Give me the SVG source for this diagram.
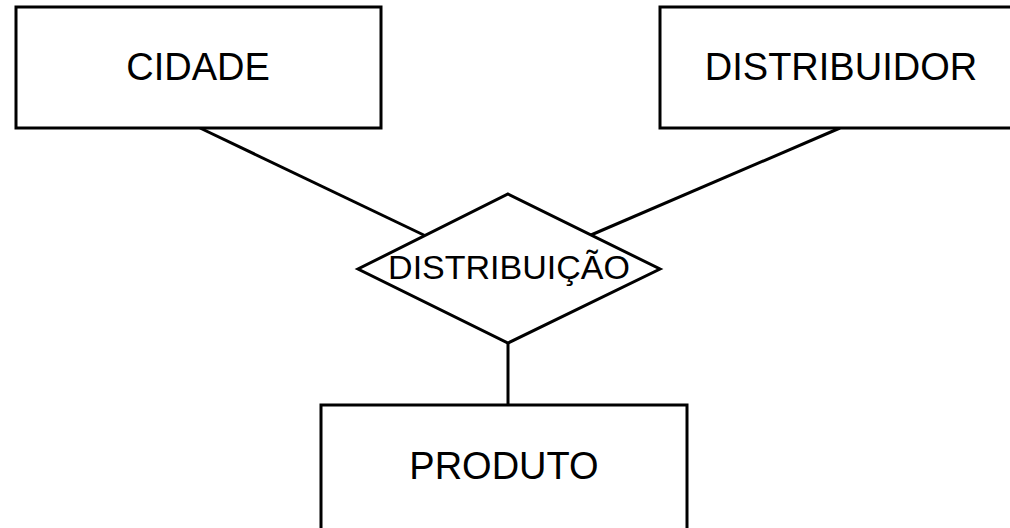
<svg xmlns="http://www.w3.org/2000/svg" width="1010" height="528" viewBox="0 0 1010 528">
<style>
.box{fill:#fff;stroke:#000;stroke-width:3}
.con{stroke:#000;stroke-width:3;fill:none}
.lbl{font-family:"Liberation Sans",Arial,sans-serif;fill:#000;text-anchor:middle}
</style>
<rect width="1010" height="528" fill="#fff"/>
<g id="connectors">
<line class="con" x1="200" y1="128" x2="430" y2="238"/>
<line class="con" x1="840" y1="128" x2="584" y2="238"/>
<line class="con" x1="508" y1="343" x2="508" y2="405"/>
</g>
<g id="cidade">
<rect class="box" x="16" y="7" width="365" height="121"/>
<text class="lbl" x="198" y="80" font-size="38">CIDADE</text>
</g>
<g id="distribuidor">
<rect class="box" x="660" y="7" width="370" height="121"/>
<text class="lbl" x="841" y="80" font-size="38">DISTRIBUIDOR</text>
</g>
<g id="distribuicao">
<polygon class="box" points="508,194 660,269 508,343 358,269"/>
<text class="lbl" x="509" y="279" font-size="34">DISTRIBUIÇÃO</text>
</g>
<g id="produto">
<rect class="box" x="321" y="405" width="366" height="124.5"/>
<text class="lbl" x="504" y="479" font-size="38">PRODUTO</text>
</g>
</svg>
